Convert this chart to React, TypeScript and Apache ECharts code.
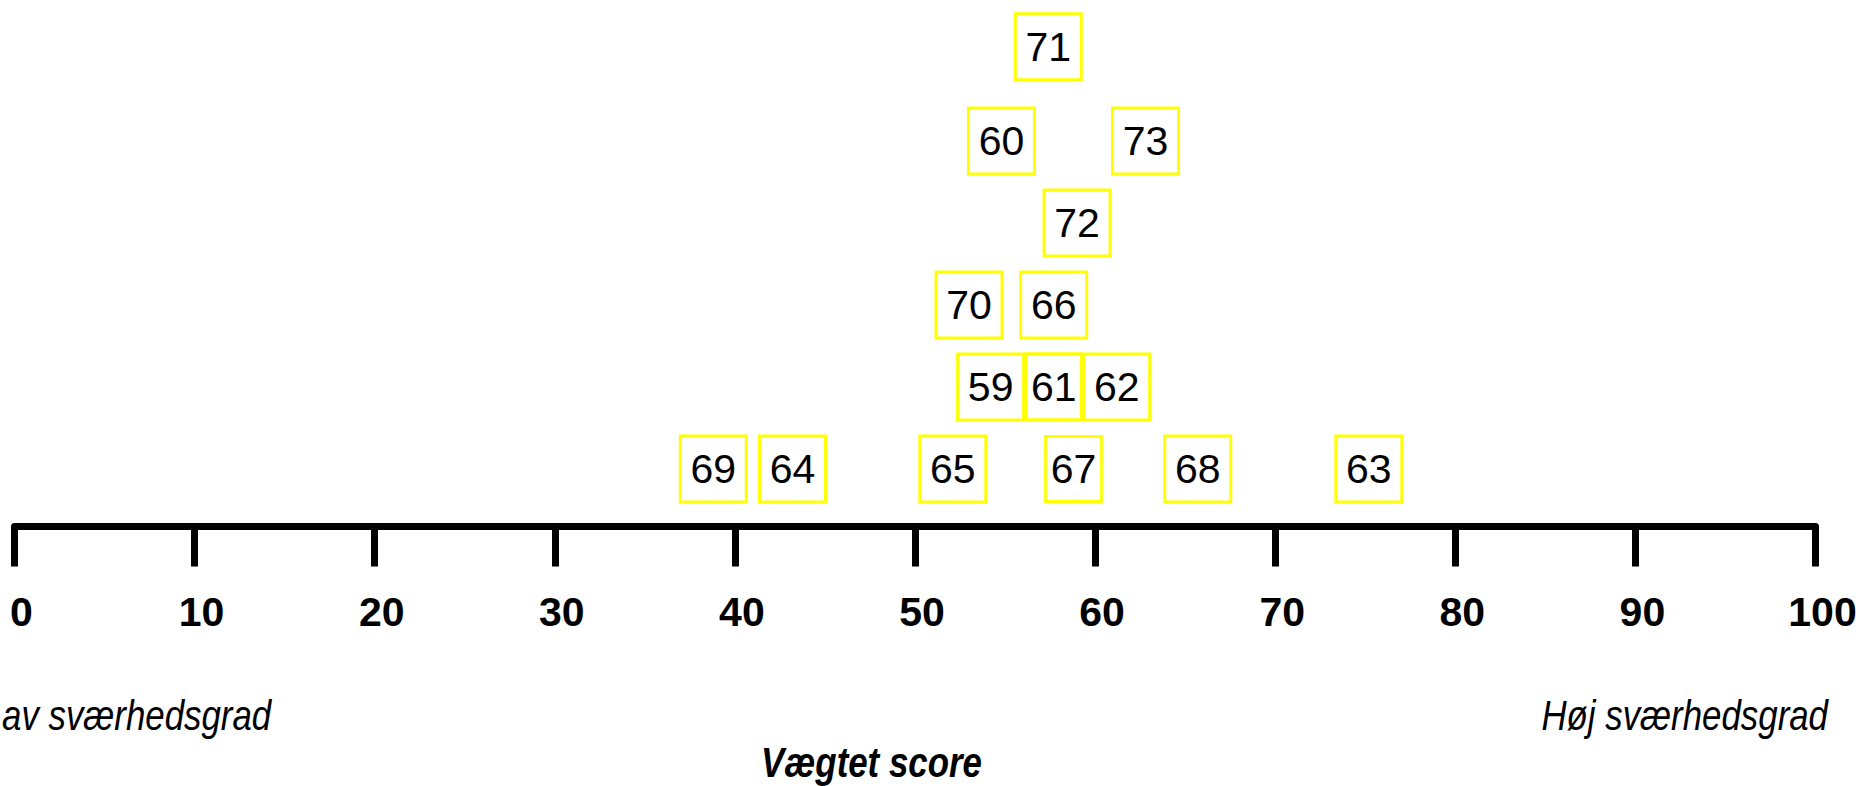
import React, { useEffect, useRef } from "react";
import * as echarts from "echarts";

// Row/box identifiers (labels inside the boxes)
const ids = ["71", "60", "73", "72", "70", "66", "59", "61", "62", "69", "64", "65", "67", "68", "63"];
// Weighted score of each box (x position on the 0-100 scale)
const scores = [57.4, 54.8, 62.8, 59.0, 53.0, 57.7, 54.2, 57.7, 61.2, 38.8, 43.2, 52.1, 58.8, 65.7, 75.2];
// Stacking level of each box above the axis
const levels = [5.15, 4, 4, 3, 2, 2, 1, 1, 1, 0, 0, 0, 0, 0, 0];
// Axis ticks
const xMin = 0;
const xMax = 100;
const xStep = 10;
// Texts
const lowLabel = "av sværhedsgrad";
const highLabel = "Høj sværhedsgrad";
const axisTitle = "Vægtet score";

const sansFont = "'Liberation Sans', Arial, Helvetica, sans-serif";

// per-box size overrides (styling only)
const sizeOverride: Record<string, number[]> = {
  "61": [55, 66],
  "67": [56, 65],
};

export default function App() {
  const ref = useRef<HTMLDivElement>(null);

  useEffect(() => {
    if (!ref.current) return;
    const chart = echarts.init(ref.current, undefined, { renderer: "svg" });

    const data = ids.map((id, i) => ({
      name: id,
      value: [scores[i], levels[i]],
      symbolSize: sizeOverride[id] || [66, 66],
    }));

    chart.setOption({
      animation: false,
      backgroundColor: "#ffffff",
      grid: { left: 14.5, right: 48.5, top: 0, bottom: 259.5, containLabel: false },
      xAxis: {
        type: "value",
        min: xMin,
        max: xMax,
        interval: xStep,
        axisLine: { show: true, onZero: false, lineStyle: { color: "#000", width: 7 } },
        axisTick: { show: true, inside: false, length: 40, lineStyle: { color: "#000", width: 7 } },
        splitLine: { show: false },
        axisLabel: {
          show: true,
          margin: 65,
          color: "#000",
          fontFamily: sansFont,
          fontWeight: "bold",
          fontSize: 41,
          padding: [0, 0, 0, 14],
        },
      },
      yAxis: {
        type: "value",
        min: -0.7012,
        max: 5.7195,
        show: false,
        splitLine: { show: false },
      },
      series: [
        {
          type: "scatter",
          symbol: "rect",
          data,
          itemStyle: { color: "#ffffff", borderColor: "#FFFF00", borderWidth: 3, opacity: 1 },
          label: {
            show: true,
            position: "inside",
            formatter: (p: any) => p.name,
            color: "#000",
            fontFamily: sansFont,
            fontSize: 41,
          },
          emphasis: { disabled: true },
          z: 3,
        },
      ],
      graphic: [
        {
          type: "text",
          x: 2,
          y: 715,
          scaleX: 0.83,
          style: {
            text: lowLabel,
            font: `italic 42px ${sansFont}`,
            fill: "#000",
            align: "left",
            verticalAlign: "middle",
          },
        },
        {
          type: "text",
          x: 1828,
          y: 715,
          scaleX: 0.83,
          style: {
            text: highLabel,
            font: `italic 42px ${sansFont}`,
            fill: "#000",
            align: "right",
            verticalAlign: "middle",
          },
        },
        {
          type: "text",
          x: 871.5,
          y: 762,
          scaleX: 0.83,
          style: {
            text: axisTitle,
            font: `italic bold 42px ${sansFont}`,
            fill: "#000",
            align: "center",
            verticalAlign: "middle",
          },
        },
      ],
    });

    return () => chart.dispose();
  }, []);

  return (
    <div
      ref={ref}
      style={{ position: "fixed", left: 0, top: 0, width: 1864, height: 786, background: "#fff" }}
    />
  );
}
